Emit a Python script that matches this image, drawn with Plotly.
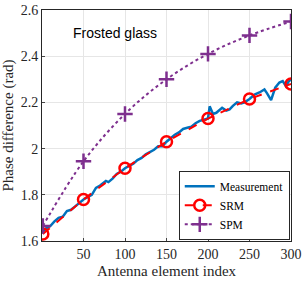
import plotly.graph_objects as go

meas_x = [1, 5, 10, 15, 20, 25, 30, 35, 40, 45, 50, 55, 60, 65, 70, 77, 80, 85, 90, 95, 100,
          105, 110, 115, 120, 125, 130, 135, 140, 145, 150, 155, 160, 165, 170, 175, 180, 185,
          190, 195, 200, 202, 206, 210, 217, 222, 226, 230, 235, 240, 244, 250, 256, 262, 268,
          271, 274, 276, 281, 286, 290, 294, 297, 300]
meas_y = [1.64, 1.655, 1.665, 1.685, 1.70, 1.705, 1.73, 1.735, 1.75, 1.765, 1.78, 1.79, 1.80, 1.83, 1.84, 1.86,
          1.855, 1.87, 1.89, 1.90, 1.915, 1.925, 1.935, 1.95, 1.96, 1.975, 1.985, 1.995, 2.01, 2.01,
          2.03, 2.045, 2.06, 2.07, 2.085, 2.09, 2.095, 2.11, 2.12, 2.125, 2.13, 2.183, 2.15, 2.155,
          2.177, 2.165, 2.17, 2.185, 2.20, 2.195, 2.20, 2.215, 2.234, 2.243, 2.256, 2.24, 2.22,
          2.21, 2.264, 2.286, 2.292, 2.27, 2.29, 2.30]

model_x = [1, 50, 100, 150, 200, 250, 300]
srm_y = [1.63, 1.78, 1.915, 2.03, 2.13, 2.215, 2.28]
spm_y = [1.665, 1.945, 2.15, 2.30, 2.41, 2.49, 2.55]

x_ticks = [50, 100, 150, 200, 250, 300]
y_ticks = [1.6, 1.8, 2.0, 2.2, 2.4, 2.6]
y_tick_text = ["1.6", "1.8", "2", "2.2", "2.4", "2.6"]

serif = "Liberation Serif"
fig = go.Figure()
fig.add_trace(go.Scatter(x=meas_x, y=meas_y, mode="lines", name="Measurement",
                         line=dict(color="#0072BD", width=2.5)))
fig.add_trace(go.Scatter(x=model_x, y=srm_y, mode="lines+markers", name="SRM",
                         line=dict(color="#FF0000", width=2, dash="dash"),
                         marker=dict(symbol="circle-open", size=11, color="#FF0000", line=dict(width=2.5))))
fig.add_trace(go.Scatter(x=model_x, y=spm_y, mode="lines+markers", name="SPM",
                         line=dict(color="#7E2F8E", width=2, dash="dot", shape="spline"),
                         marker=dict(symbol="cross-thin-open", size=11, color="#7E2F8E",
                                     line=dict(width=2.5, color="#7E2F8E"))))

fig.add_annotation(x=88, y=2.5, text="Frosted glass", showarrow=False, xanchor="center", yanchor="middle",
                   font=dict(family="Liberation Sans", size=14, color="black"))

fig.update_layout(
    width=305, height=282,
    margin=dict(l=42, r=14, t=10, b=41),
    paper_bgcolor="white", plot_bgcolor="white",
    font=dict(family=serif, size=14, color="#262626"),
    legend=dict(x=0.995, y=0.005, xanchor="right", yanchor="bottom", bgcolor="white",
                bordercolor="#262626", borderwidth=1, font=dict(family=serif, size=11.5, color="black"),
                tracegroupgap=0, itemwidth=30),
)
fig.update_xaxes(range=[0, 300], tickvals=x_ticks, showgrid=True, gridcolor="#E6E6E6", automargin=False,
                 showline=True, linecolor="#262626", mirror=True, ticks="inside", ticklen=3,
                 zeroline=False, title=dict(text="Antenna element index", standoff=4, font=dict(size=15)))
fig.update_yaxes(range=[1.6, 2.6], tickvals=y_ticks, ticktext=y_tick_text, showgrid=True, gridcolor="#E6E6E6",
                 automargin=False,
                 showline=True, linecolor="#262626", mirror=True, ticks="inside", ticklen=3,
                 zeroline=False, title=dict(text="Phase difference (rad)", standoff=4, font=dict(size=15)))
fig.write_html("out.html", post_script="document.body.style.margin='0';",
               config={"displayModeBar": False})
